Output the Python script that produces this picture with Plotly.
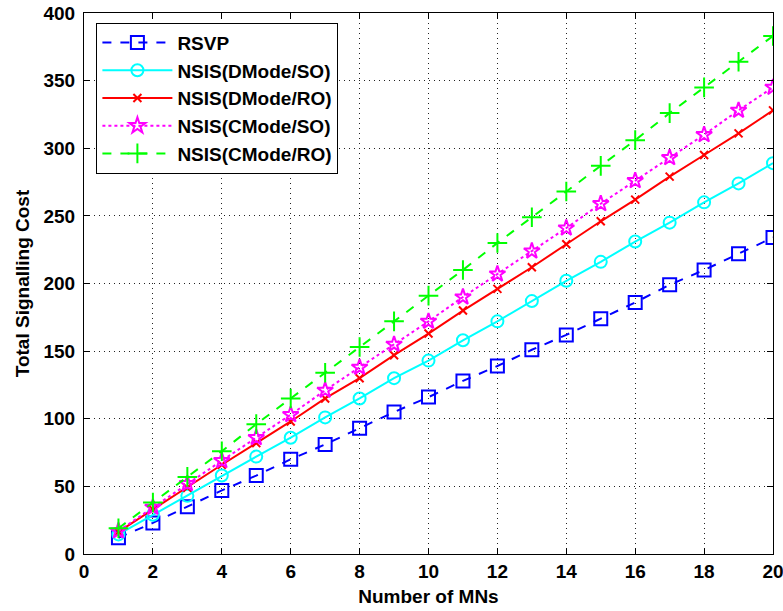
import plotly.graph_objects as go

mns = list(range(1, 21))
rsvp = [12, 23, 35, 47, 58, 70, 81, 93, 105, 116, 128, 139, 151, 162, 174, 186, 199, 210, 222, 234]
dmode_so = [14.5, 29, 43, 58, 72, 86, 101, 115, 130, 143, 158, 172, 187, 202, 216, 231, 245, 260, 274, 289]
dmode_ro = [16.4, 33, 49, 66, 82, 98, 115, 130, 147, 163, 180, 196, 212, 229, 246, 262, 279, 295, 311, 328]
cmode_so = [17, 34.5, 52, 69, 86, 103, 121, 138, 155, 172, 190, 207, 224, 241, 259, 276, 293, 310, 328, 345]
cmode_ro = [19, 38, 57, 76, 96, 115, 134, 153, 172, 191, 210, 230, 249, 268, 287, 306, 326, 345, 364, 383]

x_ticks = [0, 2, 4, 6, 8, 10, 12, 14, 16, 18, 20]
y_ticks = [0, 50, 100, 150, 200, 250, 300, 350, 400]

FONT = "Liberation Sans, Arial, sans-serif"

series = [
    ("RSVP", rsvp, "#0000FF", "dash", "square-open", 13),
    ("NSIS(DMode/SO)", dmode_so, "#00FFFF", "solid", "circle-open", 12),
    ("NSIS(DMode/RO)", dmode_ro, "#FF0000", "solid", "x-thin-open", 8),
    ("NSIS(CMode/SO)", cmode_so, "#FF00FF", "dot", "star-open", 12),
    ("NSIS(CMode/RO)", cmode_ro, "#00FF00", "dash", "cross-thin-open", 14),
]

fig = go.Figure()
for name, ys, color, dash, sym, size in series:
    fig.add_trace(go.Scatter(
        x=mns, y=ys, name=name, mode="lines+markers",
        line=dict(color=color, width=2, dash=dash),
        marker=dict(symbol=sym, size=size, color=color,
                    line=dict(color=color, width=2)),
    ))

axis_common = dict(
    showline=True, linecolor="black", linewidth=1, mirror="ticks",
    ticks="inside", ticklen=6, tickcolor="black",
    showgrid=True, gridcolor="#222222", griddash="1px,4px", gridwidth=1,
    zeroline=False, automargin=False, ticklabeloverflow="allow",
    tickfont=dict(family=FONT, size=19, color="black", weight="bold"),
)

fig.update_layout(
    width=783, height=611,
    margin=dict(l=84, r=10, t=13, b=57),
    paper_bgcolor="white", plot_bgcolor="white",
    font=dict(family=FONT, color="black"),
    xaxis=dict(range=[0, 20], tickvals=x_ticks,
               title=dict(text="<b>Number of MNs</b>", standoff=8,
                          font=dict(family=FONT, size=19, color="black")),
               **axis_common),
    yaxis=dict(range=[0, 400], tickvals=y_ticks, ticklabelstandoff=4,
               title=dict(text="<b>Total Signalling Cost</b>", standoff=8,
                          font=dict(family=FONT, size=19, color="black")),
               **axis_common),
    legend=dict(x=0.018, y=0.982, xanchor="left", yanchor="top",
                bgcolor="white", bordercolor="black", borderwidth=1,
                font=dict(family=FONT, size=19, color="black", weight="bold"),
                tracegroupgap=0, itemwidth=70),
    showlegend=True,
)

fig.write_html("out.html")
